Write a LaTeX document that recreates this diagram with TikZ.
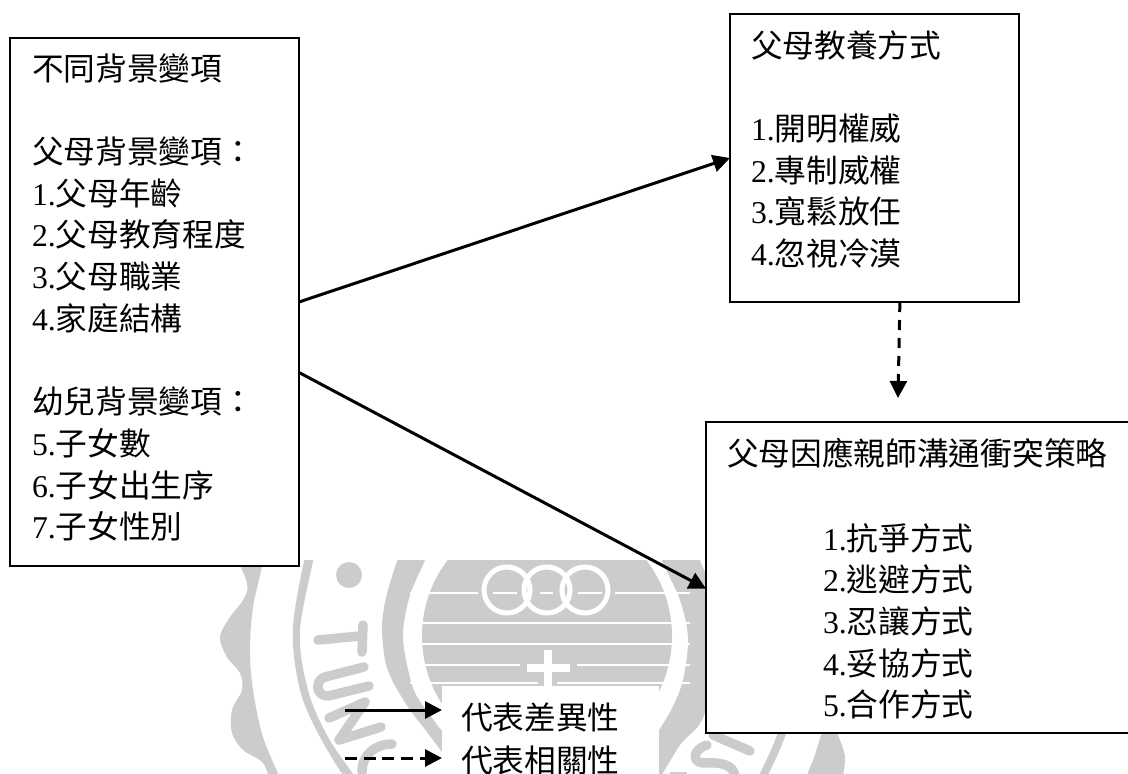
\documentclass[tikz,border=0pt]{standalone}
\usepackage{fontspec}
\setmainfont{Liberation Serif}
\newfontfamily\cjk{Noto Sans CJK TC}
\usetikzlibrary{arrows.meta}
\newcommand\zh[1]{{\cjk #1}}
\newcommand\lns[1]{\parbox[t]{400pt}{\fontsize{31.7}{41.7}\selectfont\lineskiplimit=-100pt\parindent=0pt\raggedright #1}}
\definecolor{wm}{HTML}{CCCCCC}
\tikzset{
  box/.style={draw=black,line width=2.2pt,fill=white,outer sep=0pt,inner sep=0pt},
  lbl/.style={anchor=base west,inner sep=0pt,outer sep=0pt,text=black},
  lgbg/.style={fill=white,outer sep=0pt,inner sep=0pt,minimum width=217pt,minimum height=48pt},
  conn/.style={line width=3pt,-{Triangle[length=17pt,width=17pt]}},
  dashconn/.style={conn,dash pattern=on 10pt off 8pt},
  lgdash/.style={conn,dash pattern=on 12pt off 6.7pt},
  wmfill/.style={fill=wm,draw=none},
  wmstroke/.style={draw=wm,line width=9.5pt,line cap=round,line join=round},
  wmgap/.style={draw=white,line width=2.5pt}
}
\begin{document}
\begin{tikzpicture}[x=1pt,y=-1pt]
\useasboundingbox (0,0) rectangle (1128,774);
\fill[white] (0,0) rectangle (1128,774);
% watermark
\begin{scope}
\clip (0,566) rectangle (300,774);
\fill[wmfill] plot[smooth cycle,tension=0.55] coordinates {(232,540)(247,583)(243,600)(230,617)(220,637)(227,657)(240,673)(242,690)(232,710)(232,733)(243,750)(263,763)(272,785)(282,785)(263,737)(253,690)(250,650)(253,607)(265,540)};
\end{scope}
\begin{scope}
\clip (0,560) rectangle (1128,774);
\fill[wmfill] plot[smooth cycle,tension=0.55] coordinates {(308,545)(293,627)(300,690)(320,737)(350,785)(360,785)(328,737)(308,690)(300,630)(316,545)};
\fill[wmfill] (349,575) circle (13);
\draw[wmstroke] (318,640) -- (360,636);
\draw[wmstroke] (363,625) -- (362,652);
\draw[wmstroke] (364,667) -- (325,677) .. controls (315,680) and (315,696) .. (328,696) -- (369,686);
\draw[wmstroke] (329,718) -- (365,702) -- (339,740) -- (381,727);
\draw[wmstroke] (392,744) .. controls (375,744) and (362,755) .. (362,772);
\fill[wmfill] plot[smooth cycle,tension=0.5] coordinates {(405,545)(388,590)(382,625)(385,660)(393,682)(410,710)(427,732)(445,757)(462,790)(500,790)(450,740)(430,715)(413,688)(403,638)(410,595)(430,545)};
\fill[wmfill] plot[smooth cycle,tension=0.5] coordinates {(655,540)(680,600)(688,638)(683,680)(670,712)(640,760)(620,790)(650,790)(680,745)(703,718)(720,650)(715,600)(688,540)};
\fill[wmfill] (547,636) circle (125);
\foreach \yy/\xa/\xb in {593/410/478,593/615/690,623/410/690,644/410/690,665/410/520,665/577/690,683/410/538,683/557/690,593/493/517,593/540/553,593/578/602}
  \draw[wmgap] (\xa,\yy) -- (\xb,\yy);
\foreach \cx in {507,547,585}
  \draw[draw=white,line width=5pt] (\cx,590) circle (23);
\draw[draw=white,line width=8pt] (548,650) -- (548,690);
\draw[draw=white,line width=8pt] (527,668) -- (570,668);
\draw[wmstroke] (750,751) -- (713,735);
\draw[wmstroke] (707,745) .. controls (692,750) and (692,762) .. (703,763) .. controls (720,762) and (733,764) .. (735,776);
\draw[draw=wm,line width=8pt] (783,730) .. controls (777,748) and (770,762) .. (762,778);
\fill[wmfill] plot[smooth cycle,tension=0.5] coordinates {(825,725)(815,755)(806,785)(838,785)(845,758)(838,735)(834,725)};
\fill[wmfill] (670,772) rectangle (687,776);
\end{scope}
% legend backgrounds
\node[lgbg] (lg1) at (550.5,710) {};
\node[lgbg] (lg2) at (550.5,758) {};
% boxes
\node[box,minimum width=289pt,minimum height=528pt] (L) at (154.5,302) {};
\node[box,minimum width=289pt,minimum height=288pt] (T) at (874.5,158) {};
\node[box,minimum width=423pt,minimum height=311pt] (B) at (917.5,577.5) {};
% texts
\node[lbl] (Ltxt) at (32,80) {\lns{\zh{不同背景變項}\\\mbox{}\\\zh{父母背景變項：}\\1.\zh{父母年齡}\\2.\zh{父母教育程度}\\3.\zh{父母職業}\\4.\zh{家庭結構}\\\mbox{}\\\zh{幼兒背景變項：}\\5.\zh{子女數}\\6.\zh{子女出生序}\\7.\zh{子女性別}}};
\node[lbl] (Ttxt) at (751,57) {\lns{\zh{父母教養方式}\\\mbox{}\\1.\zh{開明權威}\\2.\zh{專制威權}\\3.\zh{寬鬆放任}\\4.\zh{忽視冷漠}}};
\node[lbl] (Btxt) at (727,465) {\lns{\zh{父母因應親師溝通衝突策略}}};
\node[lbl] (Blist) at (823,550) {\lns{1.\zh{抗爭方式}\\2.\zh{逃避方式}\\3.\zh{忍讓方式}\\4.\zh{妥協方式}\\5.\zh{合作方式}}};
\node[lbl] (lt1) at (461,729) {\fontsize{31.7}{41.7}\selectfont\zh{代表差異性}};
\node[lbl] (lt2) at (461,772) {\fontsize{31.7}{41.7}\selectfont\zh{代表相關性}};
% connectors
\coordinate (s1) at (345,710);
\coordinate (s2) at (345,758);
\coordinate (dend) at (898,398);
\draw[conn] (L.0.8) -- (T.west);
\draw[conn] (L.-26.8) -- (B.183.11);
\draw[dashconn] (T.-80.7) -- (dend);
\draw[conn] (s1) -- (lg1.west);
\draw[lgdash] (s2) -- (lg2.west);
\end{tikzpicture}
\end{document}
